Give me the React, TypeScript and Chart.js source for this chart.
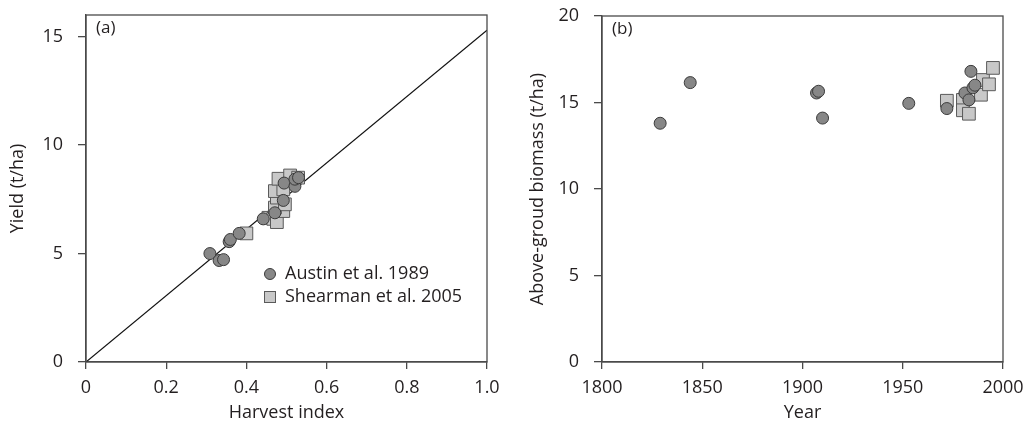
import React, { useEffect, useRef } from "react";
import { Chart, registerables } from "chart.js";
Chart.register(...registerables);

// ---- Data ----
const hiTicks = [0, 0.2, 0.4, 0.6, 0.8, 1.0];
const hiTickLabels = ["0", "0.2", "0.4", "0.6", "0.8", "1.0"];
const yieldTicks = [0, 5, 10, 15];
const yearTicks = [1800, 1850, 1900, 1950, 2000];
const biomassTicks = [0, 5, 10, 15, 20];

const austinHI = [0.309, 0.332, 0.343, 0.357, 0.36, 0.382, 0.442, 0.471, 0.492, 0.494, 0.521, 0.521, 0.53];
const austinYield = [5.0, 4.68, 4.72, 5.55, 5.65, 5.93, 6.6, 6.88, 7.45, 8.25, 8.1, 8.43, 8.5];
const shearmanHI = [0.4, 0.455, 0.467, 0.476, 0.492, 0.471, 0.496, 0.476, 0.471, 0.492, 0.48, 0.509, 0.529];
const shearmanYield = [5.93, 6.65, 6.6, 6.45, 6.96, 7.12, 7.27, 7.58, 7.88, 7.96, 8.45, 8.6, 8.5];
const fitX = [0, 1.0];
const fitY = [0, 15.3];

const austinYear = [1829, 1844, 1907, 1908, 1910, 1953, 1972, 1981, 1983, 1985, 1986, 1984];
const austinBiomass = [13.8, 16.15, 15.55, 15.65, 14.1, 14.95, 14.65, 15.55, 15.15, 15.85, 16.0, 16.8];
const shearmanYear = [1972, 1980, 1980, 1983, 1989, 1990, 1993, 1995];
const shearmanBiomass = [15.1, 15.15, 14.55, 14.35, 15.45, 16.3, 16.05, 17.0];

const legendLabels = ["Austin et al. 1989", "Shearman et al. 2005"];

// ---- Styles ----
const FONT = "'Open Sans', 'DejaVu Sans', sans-serif";
const TEXT = "#231f20";
const AXIS = "#4a4a4a";
const CIRCLE_FILL = "#878787";
const CIRCLE_EDGE = "#3a3a3a";
const SQUARE_FILL = "#c8c8c8";
const SQUARE_EDGE = "#5a5a5a";

const zip = (xs: number[], ys: number[]) => xs.map((x, i) => ({ x, y: ys[i] }));

function framePlugin(label: string) {
  return {
    id: "frame" + label,
    afterDraw(chart: any) {
      const { ctx, chartArea: a } = chart;
      ctx.save();
      ctx.strokeStyle = AXIS;
      ctx.lineWidth = 1.3;
      ctx.strokeRect(a.left, a.top, a.right - a.left, a.bottom - a.top);
      ctx.fillStyle = TEXT;
      ctx.font = `17px ${FONT}`;
      ctx.textBaseline = "middle";
      ctx.textAlign = "left";
      ctx.fillText(label, a.left + 10, a.top + 13);
      ctx.restore();
    },
  };
}

const legendPlugin = {
  id: "customLegend",
  afterDraw(chart: any) {
    const { ctx } = chart;
    ctx.save();
    ctx.font = `18px ${FONT}`;
    ctx.textBaseline = "middle";
    ctx.textAlign = "left";
    // circle
    ctx.beginPath();
    ctx.arc(270, 274, 5.5, 0, Math.PI * 2);
    ctx.fillStyle = CIRCLE_FILL;
    ctx.fill();
    ctx.strokeStyle = CIRCLE_EDGE;
    ctx.lineWidth = 1;
    ctx.stroke();
    ctx.fillStyle = TEXT;
    ctx.fillText(legendLabels[0], 285, 274);
    // square
    ctx.fillStyle = SQUARE_FILL;
    ctx.fillRect(264.5, 291.5, 11, 11);
    ctx.strokeStyle = SQUARE_EDGE;
    ctx.strokeRect(264.5, 291.5, 11, 11);
    ctx.fillStyle = TEXT;
    ctx.fillText(legendLabels[1], 285, 297);
    ctx.restore();
  },
};

function axisOpts(opts: any) {
  const { min, max, ticks, labels, title, isX, width, titlePad } = opts;
  return {
    type: "linear",
    position: isX ? "bottom" : "left",
    min,
    max,
    afterBuildTicks: (s: any) => {
      s.ticks = ticks.map((v: number) => ({ value: v }));
    },
    afterFit: (s: any) => {
      if (isX) {
        s.height = 75;
        s.paddingLeft = 0;
        s.paddingRight = 0;
      } else {
        s.width = width;
        s.paddingTop = 0;
        s.paddingBottom = 0;
      }
    },
    grid: {
      drawOnChartArea: false,
      drawTicks: true,
      tickLength: isX ? 7 : 8,
      color: AXIS,
      lineWidth: 1.3,
    },
    border: { display: true, color: AXIS, width: 1.3 },
    ticks: {
      color: TEXT,
      font: { family: FONT, size: 18 },
      padding: isX ? 8 : 15,
      autoSkip: false,
      maxRotation: 0,
      callback: (v: number) => {
        const i = ticks.indexOf(v);
        return labels ? labels[i] : String(v);
      },
    },
    title: {
      display: true,
      text: title,
      color: TEXT,
      font: { family: FONT, size: 18 },
      padding: titlePad,
    },
  };
}

function PanelA() {
  const ref = useRef<HTMLCanvasElement>(null);
  useEffect(() => {
    const chart = new Chart(ref.current as HTMLCanvasElement, {
      type: "scatter",
      data: {
        datasets: [
          {
            label: legendLabels[0],
            data: zip(austinHI, austinYield),
            pointStyle: "circle",
            pointRadius: 6,
            backgroundColor: CIRCLE_FILL,
            borderColor: CIRCLE_EDGE,
            borderWidth: 1,
            order: 0,
          } as any,
          {
            label: legendLabels[1],
            data: zip(shearmanHI, shearmanYield),
            pointStyle: "rect",
            pointRadius: 9,
            backgroundColor: SQUARE_FILL,
            borderColor: SQUARE_EDGE,
            borderWidth: 1,
            order: 1,
          },
          {
            type: "line",
            label: "fit",
            data: zip(fitX, fitY),
            borderColor: "#111111",
            borderWidth: 1.2,
            pointRadius: 0,
            showLine: true,
            order: 2,
          } as any,
        ],
      },
      options: {
        responsive: false,
        animation: false,
        devicePixelRatio: 1,
        layout: { padding: { top: 15, right: 28, left: 0, bottom: 0 } },
        plugins: { legend: { display: false }, tooltip: { enabled: false } },
        scales: {
          x: axisOpts({ min: 0, max: 1, ticks: hiTicks, labels: hiTickLabels, title: "Harvest index", isX: true, titlePad: { top: 0, bottom: 13 } }),
          y: axisOpts({ min: 0, max: 16, ticks: yieldTicks, title: "Yield (t/ha)", isX: false, width: 86, titlePad: { top: 7, bottom: 0 } }),
        } as any,
      },
      plugins: [framePlugin("(a)"), legendPlugin],
    });
    return () => chart.destroy();
  }, []);
  return <canvas ref={ref} width={515} height={437} />;
}

function PanelB() {
  const ref = useRef<HTMLCanvasElement>(null);
  useEffect(() => {
    const chart = new Chart(ref.current as HTMLCanvasElement, {
      type: "scatter",
      data: {
        datasets: [
          {
            label: legendLabels[0],
            data: zip(austinYear, austinBiomass),
            pointStyle: "circle",
            pointRadius: 6,
            backgroundColor: CIRCLE_FILL,
            borderColor: CIRCLE_EDGE,
            borderWidth: 1,
            order: 0,
          },
          {
            label: legendLabels[1],
            data: zip(shearmanYear, shearmanBiomass),
            pointStyle: "rect",
            pointRadius: 9,
            backgroundColor: SQUARE_FILL,
            borderColor: SQUARE_EDGE,
            borderWidth: 1,
            order: 1,
          },
        ],
      },
      options: {
        responsive: false,
        animation: false,
        devicePixelRatio: 1,
        layout: { padding: { top: 16, right: 25, left: 0, bottom: 0 } },
        plugins: { legend: { display: false }, tooltip: { enabled: false } },
        scales: {
          x: axisOpts({ min: 1800, max: 2000, ticks: yearTicks, title: "Year", isX: true, titlePad: { top: 0, bottom: 13 } }),
          y: axisOpts({ min: 0, max: 20, ticks: biomassTicks, title: "Above-groud biomass (t/ha)", isX: false, width: 87, titlePad: { top: 12, bottom: 0 } }),
        } as any,
      },
      plugins: [framePlugin("(b)")],
    });
    return () => chart.destroy();
  }, []);
  return <canvas ref={ref} width={513} height={437} />;
}

export default function App() {
  return (
    <div style={{ position: "absolute", left: 0, top: 0, width: 1028, height: 437, background: "#fff" }}>
      <div style={{ position: "absolute", left: 0, top: 0 }}>
        <PanelA />
      </div>
      <div style={{ position: "absolute", left: 515, top: 0 }}>
        <PanelB />
      </div>
    </div>
  );
}
